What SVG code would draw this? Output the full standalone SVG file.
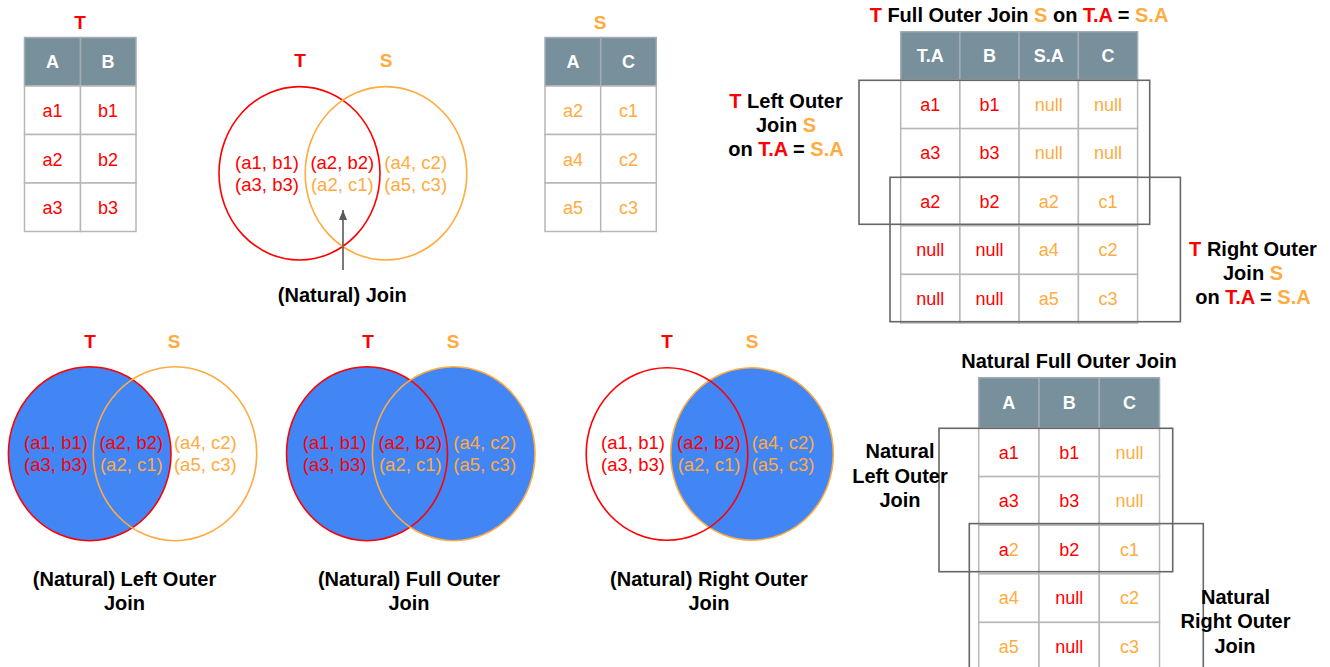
<svg xmlns="http://www.w3.org/2000/svg" width="1330" height="667" viewBox="0 0 1330 667">
  <style>
    text { font-family: "Liberation Sans", Arial, sans-serif; }
    .lbl { font-size: 20px; font-weight: bold; fill: #000; text-anchor: middle; }
    .set { font-size: 19px; font-weight: bold; text-anchor: middle; }
    .tup { font-size: 18.5px; text-anchor: middle; }
    .cell-t { font-size: 18px; text-anchor: middle; }
    .hd-t { font-size: 18px; font-weight: bold; fill: #fff; text-anchor: middle; }
    .r { fill: #ff0000; }
    .o { fill: #ffab40; }
    .hd { fill: #78909c; stroke: #a3adb3; stroke-width: 1.5; }
    .cell { fill: #fff; stroke: #b7b7b7; stroke-width: 1.5; }
    .box { fill: none; stroke: #666; stroke-width: 1.6; }
    .ring-t { fill: none; stroke: #ff0000; stroke-width: 1.6; }
    .ring-s { fill: none; stroke: #ffab40; stroke-width: 1.6; }
    .fill { fill: #4285f4; }
  </style>
  <defs>
    <marker id="arrowhead" markerWidth="10" markerHeight="8" refX="10" refY="4" orient="auto" markerUnits="userSpaceOnUse" viewBox="0 0 10 8">
      <path d="M0,0 L10,4 L0,8 Z" fill="#595959"/>
    </marker>
  </defs>

  <!-- Table T -->
  <g id="table-t">
    <text class="set r" x="80" y="29">T</text>
    <rect class="hd" x="24.5" y="37.5" width="56" height="48.5"/>
    <rect class="hd" x="80.5" y="37.5" width="55.5" height="48.5"/>
    <text class="hd-t" x="52.5" y="68">A</text>
    <text class="hd-t" x="108" y="68">B</text>
    <rect class="cell" x="24.5" y="86" width="56" height="48.5"/>
    <rect class="cell" x="80.5" y="86" width="55.5" height="48.5"/>
    <rect class="cell" x="24.5" y="134.5" width="56" height="48.5"/>
    <rect class="cell" x="80.5" y="134.5" width="55.5" height="48.5"/>
    <rect class="cell" x="24.5" y="183" width="56" height="48.5"/>
    <rect class="cell" x="80.5" y="183" width="55.5" height="48.5"/>
    <text class="cell-t r" x="52.5" y="117">a1</text>
    <text class="cell-t r" x="108" y="117">b1</text>
    <text class="cell-t r" x="52.5" y="165.5">a2</text>
    <text class="cell-t r" x="108" y="165.5">b2</text>
    <text class="cell-t r" x="52.5" y="214">a3</text>
    <text class="cell-t r" x="108" y="214">b3</text>
  </g>

  <!-- Table S -->
  <g id="table-s">
    <text class="set o" x="600" y="29">S</text>
    <rect class="hd" x="545" y="37.5" width="55.7" height="48.5"/>
    <rect class="hd" x="600.7" y="37.5" width="55.6" height="48.5"/>
    <text class="hd-t" x="573" y="68">A</text>
    <text class="hd-t" x="628.5" y="68">C</text>
    <rect class="cell" x="545" y="86" width="55.7" height="48.5"/>
    <rect class="cell" x="600.7" y="86" width="55.6" height="48.5"/>
    <rect class="cell" x="545" y="134.5" width="55.7" height="48.5"/>
    <rect class="cell" x="600.7" y="134.5" width="55.6" height="48.5"/>
    <rect class="cell" x="545" y="183" width="55.7" height="48.5"/>
    <rect class="cell" x="600.7" y="183" width="55.6" height="48.5"/>
    <text class="cell-t o" x="573" y="117">a2</text>
    <text class="cell-t o" x="628.5" y="117">c1</text>
    <text class="cell-t o" x="573" y="165.5">a4</text>
    <text class="cell-t o" x="628.5" y="165.5">c2</text>
    <text class="cell-t o" x="573" y="214">a5</text>
    <text class="cell-t o" x="628.5" y="214">c3</text>
  </g>

  <!-- Venn: natural join -->
  <g id="venn-join">
    <text class="set r" x="300" y="67">T</text>
    <text class="set o" x="386" y="67">S</text>
    <ellipse class="ring-t" cx="299.5" cy="173.3" rx="80.5" ry="86.7"/>
    <ellipse class="ring-s" cx="386" cy="173.3" rx="80.8" ry="86.7"/>
    <text class="tup r" x="267" y="168.8">(a1, b1)</text>
    <text class="tup r" x="267" y="190.8">(a3, b3)</text>
    <text class="tup r" x="342.3" y="168.8">(a2, b2)</text>
    <text class="tup o" x="342.3" y="190.8">(a2, c1)</text>
    <text class="tup o" x="415.7" y="168.8">(a4, c2)</text>
    <text class="tup o" x="415.7" y="190.8">(a5, c3)</text>
    <text class="lbl" x="342.3" y="302">(Natural) Join</text>
  </g>

  <!-- Venn: left outer join -->
  <g id="venn-left">
    <text class="set r" x="90" y="348">T</text>
    <text class="set o" x="174" y="348">S</text>
    <ellipse class="fill" cx="89.7" cy="453.7" rx="81.3" ry="87"/>
    <ellipse class="ring-t" cx="89.7" cy="453.7" rx="81.3" ry="87"/>
    <ellipse class="ring-s" cx="175" cy="453.7" rx="81.7" ry="87"/>
    <text class="tup r" x="56" y="449">(a1, b1)</text>
    <text class="tup r" x="56" y="471">(a3, b3)</text>
    <text class="tup r" x="131.3" y="449">(a2, b2)</text>
    <text class="tup o" x="131.3" y="471">(a2, c1)</text>
    <text class="tup o" x="205.3" y="449">(a4, c2)</text>
    <text class="tup o" x="205.3" y="471">(a5, c3)</text>
    <text class="lbl" x="124.5" y="586">(Natural) Left Outer</text>
    <text class="lbl" x="124.5" y="610">Join</text>
  </g>

  <!-- Venn: full outer join -->
  <g id="venn-full">
    <text class="set r" x="368" y="348">T</text>
    <text class="set o" x="453" y="348">S</text>
    <ellipse class="fill" cx="367" cy="453.7" rx="80.5" ry="87"/>
    <ellipse class="fill" cx="453.7" cy="453.7" rx="81.3" ry="87"/>
    <ellipse class="ring-t" cx="367" cy="453.7" rx="80.5" ry="87"/>
    <ellipse class="ring-s" cx="453.7" cy="453.7" rx="81.3" ry="87"/>
    <text class="tup r" x="334.7" y="449">(a1, b1)</text>
    <text class="tup r" x="334.7" y="471">(a3, b3)</text>
    <text class="tup r" x="410.3" y="449">(a2, b2)</text>
    <text class="tup o" x="410.3" y="471">(a2, c1)</text>
    <text class="tup o" x="484.7" y="449">(a4, c2)</text>
    <text class="tup o" x="484.7" y="471">(a5, c3)</text>
    <text class="lbl" x="409" y="586">(Natural) Full Outer</text>
    <text class="lbl" x="409" y="610">Join</text>
  </g>

  <!-- Venn: right outer join -->
  <g id="venn-right">
    <text class="set r" x="667" y="348">T</text>
    <text class="set o" x="752" y="348">S</text>
    <ellipse class="fill" cx="752" cy="454" rx="81.3" ry="86.2"/>
    <ellipse class="ring-s" cx="752" cy="454" rx="81.3" ry="86.2"/>
    <ellipse class="ring-t" cx="667" cy="454" rx="80.8" ry="86.2"/>
    <text class="tup r" x="633" y="449">(a1, b1)</text>
    <text class="tup r" x="633" y="471">(a3, b3)</text>
    <text class="tup r" x="709" y="449">(a2, b2)</text>
    <text class="tup o" x="709" y="471">(a2, c1)</text>
    <text class="tup o" x="783" y="449">(a4, c2)</text>
    <text class="tup o" x="783" y="471">(a5, c3)</text>
    <text class="lbl" x="709" y="586">(Natural) Right Outer</text>
    <text class="lbl" x="709" y="610">Join</text>
  </g>

  <!-- Outer join on T.A = S.A -->
  <g id="table-on">
    <text class="lbl" x="1019" y="22"><tspan class="r">T</tspan> Full Outer Join <tspan class="o">S</tspan> on <tspan class="r">T.A</tspan> = <tspan class="o">S.A</tspan></text>
    <rect class="hd" x="900.7" y="31.7" width="59.2" height="48.3"/>
    <rect class="hd" x="959.9" y="31.7" width="59.2" height="48.3"/>
    <rect class="hd" x="1019.1" y="31.7" width="59.3" height="48.3"/>
    <rect class="hd" x="1078.4" y="31.7" width="59.2" height="48.3"/>
    <text class="hd-t" x="930.3" y="62">T.A</text>
    <text class="hd-t" x="989.5" y="62">B</text>
    <text class="hd-t" x="1048.7" y="62">S.A</text>
    <text class="hd-t" x="1108" y="62">C</text>
    <g>
      <rect class="cell" x="900.7" y="80" width="59.2" height="48.6"/>
      <rect class="cell" x="959.9" y="80" width="59.2" height="48.6"/>
      <rect class="cell" x="1019.1" y="80" width="59.3" height="48.6"/>
      <rect class="cell" x="1078.4" y="80" width="59.2" height="48.6"/>
      <rect class="cell" x="900.7" y="128.6" width="59.2" height="48.6"/>
      <rect class="cell" x="959.9" y="128.6" width="59.2" height="48.6"/>
      <rect class="cell" x="1019.1" y="128.6" width="59.3" height="48.6"/>
      <rect class="cell" x="1078.4" y="128.6" width="59.2" height="48.6"/>
      <rect class="cell" x="900.7" y="177.2" width="59.2" height="48.6"/>
      <rect class="cell" x="959.9" y="177.2" width="59.2" height="48.6"/>
      <rect class="cell" x="1019.1" y="177.2" width="59.3" height="48.6"/>
      <rect class="cell" x="1078.4" y="177.2" width="59.2" height="48.6"/>
      <rect class="cell" x="900.7" y="225.8" width="59.2" height="48.6"/>
      <rect class="cell" x="959.9" y="225.8" width="59.2" height="48.6"/>
      <rect class="cell" x="1019.1" y="225.8" width="59.3" height="48.6"/>
      <rect class="cell" x="1078.4" y="225.8" width="59.2" height="48.6"/>
      <rect class="cell" x="900.7" y="274.4" width="59.2" height="48.6"/>
      <rect class="cell" x="959.9" y="274.4" width="59.2" height="48.6"/>
      <rect class="cell" x="1019.1" y="274.4" width="59.3" height="48.6"/>
      <rect class="cell" x="1078.4" y="274.4" width="59.2" height="48.6"/>
    </g>
    <text class="cell-t r" x="930.3" y="110.5">a1</text>
    <text class="cell-t r" x="989.5" y="110.5">b1</text>
    <text class="cell-t o" x="1048.7" y="110.5">null</text>
    <text class="cell-t o" x="1108" y="110.5">null</text>
    <text class="cell-t r" x="930.3" y="159">a3</text>
    <text class="cell-t r" x="989.5" y="159">b3</text>
    <text class="cell-t o" x="1048.7" y="159">null</text>
    <text class="cell-t o" x="1108" y="159">null</text>
    <text class="cell-t r" x="930.3" y="207.6">a2</text>
    <text class="cell-t r" x="989.5" y="207.6">b2</text>
    <text class="cell-t o" x="1048.7" y="207.6">a2</text>
    <text class="cell-t o" x="1108" y="207.6">c1</text>
    <text class="cell-t r" x="930.3" y="256.2">null</text>
    <text class="cell-t r" x="989.5" y="256.2">null</text>
    <text class="cell-t o" x="1048.7" y="256.2">a4</text>
    <text class="cell-t o" x="1108" y="256.2">c2</text>
    <text class="cell-t r" x="930.3" y="304.8">null</text>
    <text class="cell-t r" x="989.5" y="304.8">null</text>
    <text class="cell-t o" x="1048.7" y="304.8">a5</text>
    <text class="cell-t o" x="1108" y="304.8">c3</text>
  </g>

  <g id="box-on-left">
    <rect class="box" x="859" y="80.3" width="290.7" height="144"/>
    <text class="lbl" x="786" y="108.3"><tspan class="r">T</tspan> Left Outer</text>
    <text class="lbl" x="786" y="132.3">Join <tspan class="o">S</tspan></text>
    <text class="lbl" x="786" y="156.3">on <tspan class="r">T.A</tspan> = <tspan class="o">S.A</tspan></text>
  </g>

  <g id="box-on-right">
    <rect class="box" x="890" y="177.3" width="290.4" height="144.4"/>
    <text class="lbl" x="1253" y="256"><tspan class="r">T</tspan> Right Outer</text>
    <text class="lbl" x="1253" y="280">Join <tspan class="o">S</tspan></text>
    <text class="lbl" x="1253" y="304">on <tspan class="r">T.A</tspan> = <tspan class="o">S.A</tspan></text>
  </g>

  <!-- Natural outer joins -->
  <g id="table-natural">
    <text class="lbl" x="1069" y="368">Natural Full Outer Join</text>
    <rect class="hd" x="978.7" y="377.7" width="60.3" height="50.3"/>
    <rect class="hd" x="1039" y="377.7" width="60.3" height="50.3"/>
    <rect class="hd" x="1099.3" y="377.7" width="60.2" height="50.3"/>
    <text class="hd-t" x="1008.8" y="409">A</text>
    <text class="hd-t" x="1069.2" y="409">B</text>
    <text class="hd-t" x="1129.4" y="409">C</text>
    <g>
      <rect class="cell" x="978.7" y="428" width="60.3" height="48.6"/>
      <rect class="cell" x="1039" y="428" width="60.3" height="48.6"/>
      <rect class="cell" x="1099.3" y="428" width="60.2" height="48.6"/>
      <rect class="cell" x="978.7" y="476.6" width="60.3" height="48.6"/>
      <rect class="cell" x="1039" y="476.6" width="60.3" height="48.6"/>
      <rect class="cell" x="1099.3" y="476.6" width="60.2" height="48.6"/>
      <rect class="cell" x="978.7" y="525.2" width="60.3" height="48.6"/>
      <rect class="cell" x="1039" y="525.2" width="60.3" height="48.6"/>
      <rect class="cell" x="1099.3" y="525.2" width="60.2" height="48.6"/>
      <rect class="cell" x="978.7" y="573.8" width="60.3" height="48.6"/>
      <rect class="cell" x="1039" y="573.8" width="60.3" height="48.6"/>
      <rect class="cell" x="1099.3" y="573.8" width="60.2" height="48.6"/>
      <rect class="cell" x="978.7" y="622.4" width="60.3" height="48.6"/>
      <rect class="cell" x="1039" y="622.4" width="60.3" height="48.6"/>
      <rect class="cell" x="1099.3" y="622.4" width="60.2" height="48.6"/>
    </g>
    <text class="cell-t r" x="1008.8" y="458.5">a1</text>
    <text class="cell-t r" x="1069.2" y="458.5">b1</text>
    <text class="cell-t o" x="1129.4" y="458.5">null</text>
    <text class="cell-t r" x="1008.8" y="507">a3</text>
    <text class="cell-t r" x="1069.2" y="507">b3</text>
    <text class="cell-t o" x="1129.4" y="507">null</text>
    <text class="cell-t r" x="1008.8" y="555.6"><tspan>a</tspan><tspan class="o">2</tspan></text>
    <text class="cell-t r" x="1069.2" y="555.6">b2</text>
    <text class="cell-t o" x="1129.4" y="555.6">c1</text>
    <text class="cell-t o" x="1008.8" y="604.2">a4</text>
    <text class="cell-t r" x="1069.2" y="604.2">null</text>
    <text class="cell-t o" x="1129.4" y="604.2">c2</text>
    <text class="cell-t o" x="1008.8" y="652.8">a5</text>
    <text class="cell-t r" x="1069.2" y="652.8">null</text>
    <text class="cell-t o" x="1129.4" y="652.8">c3</text>
  </g>

  <g id="box-natural-left">
    <rect class="box" x="939" y="428.3" width="233.7" height="143.4"/>
    <text class="lbl" x="900" y="458.3">Natural</text>
    <text class="lbl" x="900" y="483.3">Left Outer</text>
    <text class="lbl" x="900" y="507">Join</text>
  </g>

  <g id="box-natural-right">
    <rect class="box" x="969.3" y="523.6" width="234" height="160"/>
    <text class="lbl" x="1235.5" y="604.3">Natural</text>
    <text class="lbl" x="1235.5" y="628.3">Right Outer</text>
    <text class="lbl" x="1235" y="652.5">Join</text>
  </g>

  <!-- Connectors -->
  <g id="connectors">
    <line x1="343" y1="270" x2="343" y2="210" stroke="#595959" stroke-width="1.6" marker-end="url(#arrowhead)"/>
  </g>
</svg>
